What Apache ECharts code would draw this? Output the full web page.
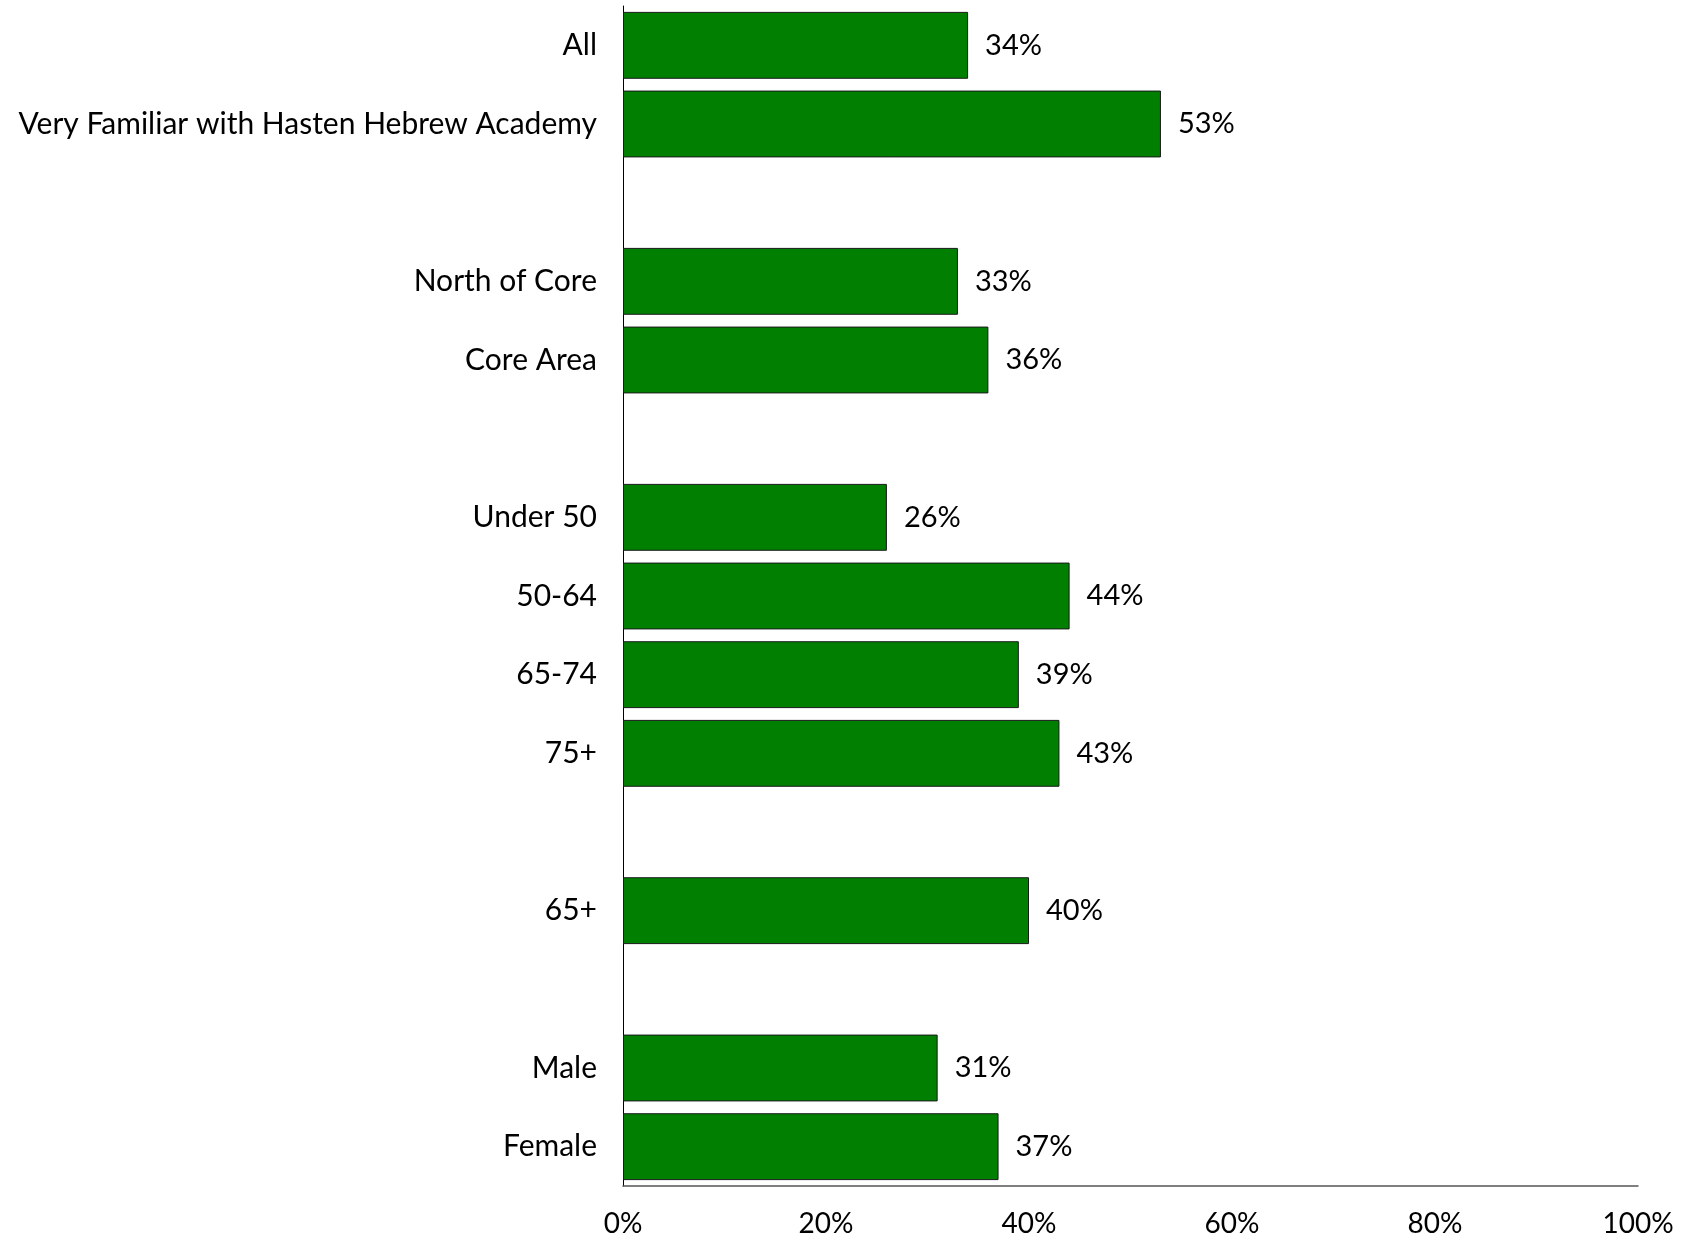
<!DOCTYPE html>
<html>
<head>
<meta charset="utf-8">
<script src="https://cdn.jsdelivr.net/npm/echarts@6/dist/echarts.min.js"></script>
<style>html,body{margin:0;padding:0;background:#fff}#c{width:1688px;height:1241px}</style>
</head>
<body>
<div id="c"></div>
<script>
const categories = ['All','Very Familiar with Hasten Hebrew Academy',' ','North of Core','Core Area','  ','Under 50','50-64','65-74','75+','   ','65+','    ','Male','Female'];
const values = [34,53,null,33,36,null,26,44,39,43,null,40,null,31,37];
const tickLabels = ['0%','20%','40%','60%','80%','100%'];

const FONT = 'Lato';
const chart = echarts.init(document.getElementById('c'));
chart.setOption({
  animation:false,
  grid:{left:623,right:50,top:6,bottom:55,containLabel:false},
  xAxis:{type:'value',min:0,max:100,interval:20,
    axisLine:{show:true,lineStyle:{color:'#555',width:1.5}},
    axisTick:{show:false},splitLine:{show:false},
    axisLabel:{margin:24,fontFamily:FONT,fontSize:28,color:'#000',
      formatter:(v)=>tickLabels[Math.round(v/20)]}},
  yAxis:{type:'category',inverse:true,data:categories,
    axisLine:{show:true,lineStyle:{color:'#000',width:1}},
    axisTick:{show:false},
    axisLabel:{margin:26,fontFamily:FONT,fontSize:30,color:'#000',padding:[4,0,0,0]}},
  series:[{type:'bar',data:values,barCategoryGap:'15%',
    itemStyle:{color:'#007f00',borderColor:'#1a1a1a',borderWidth:1},
    label:{show:true,position:'right',distance:17,fontFamily:FONT,fontSize:29,color:'#000',
      padding:[4,0,0,0],
      formatter:(p)=>p.value==null?'':p.value+'%'}}]
});
</script>
</body>
</html>
